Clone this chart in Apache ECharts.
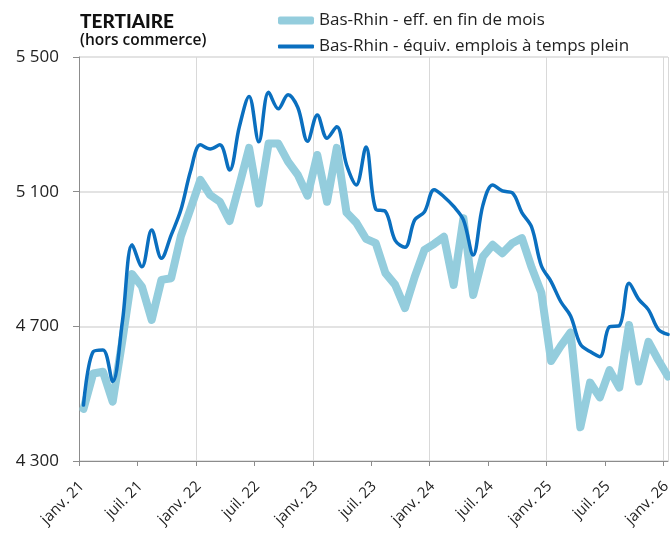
<!DOCTYPE html>
<html><head><meta charset="utf-8">
<script src="https://cdn.jsdelivr.net/npm/echarts@6/dist/echarts.min.js"></script>
<style>html,body{margin:0;padding:0;background:#fff}#c{width:670px;height:533px}</style>
</head><body><div id="c"></div>
<script>
// Months Jan 2021 .. Jan 2026 (61 monthly points)
var tickLabels = ['janv. 21','juil. 21','janv. 22','juil. 22','janv. 23','juil. 23','janv. 24','juil. 24','janv. 25','juil. 25','janv. 26'];
var yTicks = [4300, 4700, 5100, 5500];
var seriesNames = ['Bas-Rhin - eff. en fin de mois', 'Bas-Rhin - équiv. emplois à temps plein'];
var effFinMois = [4455,4560,4565,4476,4660,4855,4818,4719,4838,4843,4968,5050,
  5135,5090,5070,5013,5120,5230,5065,5243,5243,5189,5150,5088,
  5209,5070,5230,5038,5008,4960,4947,4858,4823,4754,4847,4927,
  4945,4966,4823,5021,4793,4907,4942,4917,4947,4962,4875,4800,
  4597,4642,4682,4400,4533,4489,4570,4518,4704,4536,4654,4600,4551];
var equivETP = [4466,4625,4630,4536,4715,4942,4877,4986,4902,4971,5046,5162,
  5239,5227,5239,5164,5293,5383,5248,5395,5346,5388,5350,5250,
  5328,5259,5293,5180,5120,5233,5048,5041,4955,4935,5016,5040,
  5106,5085,5056,5016,4912,5060,5120,5102,5097,5038,4995,4880,
  4833,4773,4731,4647,4625,4610,4699,4702,4828,4780,4749,4691,4676];

var midMonth = 0.46; // points are plotted mid-month
function toXY(arr){ return arr.map(function(v,i){ return [i + midMonth, v]; }); }

var font = '"Open Sans", Lato, sans-serif';
var chart = echarts.init(document.getElementById('c'), null, {renderer:'canvas'});
chart.setOption({
  animation:false,
  backgroundColor:'#fff',
  title:{
    text:'TERTIAIRE', subtext:'(hors commerce)',
    left:75, top:7, itemGap:2,
    textStyle:{fontFamily:'Lato, sans-serif', fontWeight:900, fontSize:19, color:'#111'},
    subtextStyle:{fontFamily:font, fontWeight:600, fontSize:15.5, color:'#111'}
  },
  legend:[{
    data:[seriesNames[0]], left:273, top:7, icon:'roundRect',
    itemWidth:36, itemHeight:8,
    textStyle:{fontFamily:font, fontSize:17, color:'#222', fontWeight:400}
  },{
    data:[seriesNames[1]], left:273, top:33, icon:'roundRect',
    itemWidth:36, itemHeight:4,
    textStyle:{fontFamily:font, fontSize:17, color:'#222', fontWeight:400}
  }],
  grid:{left:79, right:2, top:57, bottom:72, containLabel:false, outerBoundsMode:'none'},
  xAxis:[{
    type:'value', min:0, max:60.46, interval:6,
    axisLine:{lineStyle:{color:'#8c8c8c', width:1}},
    axisTick:{show:true, length:5, lineStyle:{color:'#8c8c8c'}},
    splitLine:{show:false},
    axisLabel:{rotate:45, fontFamily:font, fontSize:15, color:'#222', margin:20,
      formatter:function(v){ var k=Math.round(v/6); return tickLabels[k] ? '{l|' + tickLabels[k] + '}' : ''; },
      rich:{l:{fontFamily:font, fontSize:15, color:'#222', padding:[8,0,0,0]}}}
  },{
    type:'value', min:0, max:60.46, interval:12, position:'bottom',
    axisLine:{show:false}, axisTick:{show:false}, axisLabel:{show:false},
    splitLine:{show:true, lineStyle:{color:'#d9d9d9', width:1}}
  }],
  yAxis:{
    type:'value', min:4300, max:5500,
    axisLine:{show:true, lineStyle:{color:'#8c8c8c'}},
    axisTick:{show:true, length:6, customValues:yTicks, lineStyle:{color:'#8c8c8c'}},
    axisLabel:{customValues:yTicks, fontFamily:font, fontSize:17, color:'#222', margin:20,
      formatter:function(v){ return String(v).replace(/(\d)(\d{3})$/,'$1 $2'); }},
    splitLine:{show:true, lineStyle:{color:'#e3e3e3', width:2}}
  },
  series:[{
    name:seriesNames[0], type:'line', data:toXY(effFinMois), xAxisIndex:0,
    showSymbol:false, smooth:false,
    lineStyle:{color:'#94cddd', width:8, join:'round', cap:'round'},
    itemStyle:{color:'#94cddd'}
  },{
    name:seriesNames[1], type:'line', data:toXY(equivETP), xAxisIndex:0,
    showSymbol:false, smooth:0.35,
    lineStyle:{color:'#0a6fbf', width:3.5, join:'round', cap:'round'},
    itemStyle:{color:'#0a6fbf'}
  }]
});
</script></body></html>
